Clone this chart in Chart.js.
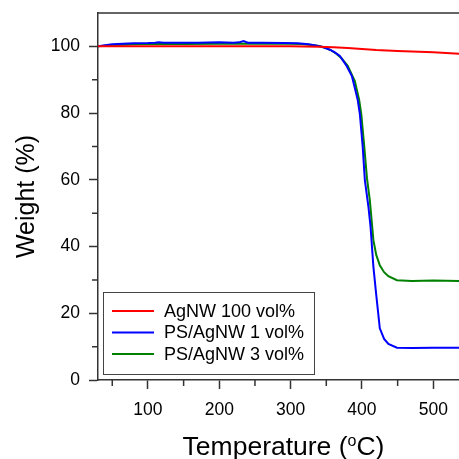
<!DOCTYPE html>
<html>
<head>
<meta charset="utf-8">
<script src="https://cdn.jsdelivr.net/npm/chart.js@4.4.1/dist/chart.umd.min.js"></script>
<style>
  html, body { margin: 0; padding: 0; background: #fff; }
  #wrap { width: 459px; height: 459px; }
</style>
</head>
<body>
<div id="wrap"><canvas id="tga" width="459" height="459"></canvas></div>
<script>
// TGA curves
const tempRed = [30, 100, 200, 300, 340, 360, 380, 400, 420, 450, 500, 536];
const weightRed = [100, 100, 100, 100, 99.9, 99.7, 99.5, 99.2, 98.9, 98.6, 98.2, 97.8];

const tempBlue = [30, 40, 50, 65, 80, 100, 110, 115, 122, 140, 170, 200, 220, 228, 234, 240, 260, 290, 310, 325,
    335, 345, 355, 362, 369, 378, 386, 390, 394, 397, 401, 404, 409, 412, 416, 420, 425, 431, 437, 449, 470, 500, 536];
const weightBlue = [100, 100.3, 100.6, 100.8, 100.9, 101.0, 101.1, 101.2, 101.1, 101.1, 101.1, 101.2, 101.1, 101.2, 101.6, 101.1, 101.1, 101.0, 100.9, 100.6,
    100.3, 99.8, 99.0, 98.2, 97.1, 94.3, 91.0, 87.5, 84.0, 79.8, 70.0, 60.0, 52.0, 46.0, 34.0, 25.5, 15.5, 12.3, 10.8, 9.7, 9.6, 9.7, 9.7];

const tempGreen = [30, 40, 50, 65, 80, 100, 150, 200, 250, 300, 315, 330, 340, 348, 356, 364, 371, 380, 390, 396,
    399, 403, 407, 411, 416, 420, 425, 431, 437, 449, 470, 500, 536];
const weightGreen = [100, 100.2, 100.4, 100.5, 100.6, 100.7, 100.7, 100.8, 100.8, 100.8, 100.7, 100.4, 100.1, 99.6, 98.9, 97.8, 96.5, 94.2, 89.6, 84.0,
    79.8, 70.5, 60.5, 53.9, 41.9, 37.5, 34.4, 32.3, 31.1, 29.9, 29.7, 29.8, 29.7];

const seriesLabels = ['AgNW 100 vol%', 'PS/AgNW 1 vol%', 'PS/AgNW 3 vol%'];
const seriesColors = ['#ff0000', '#0000ff', '#008000'];

const xMajorTicks = [100, 200, 300, 400, 500];
const xMinorTicks = [50, 150, 250, 350, 450];
const yMajorTicks = [0, 20, 40, 60, 80, 100];
const yMinorTicks = [10, 30, 50, 70, 90];

const FONT = "'Liberation Sans', Arial, sans-serif";
const AXIS_COLOR = '#333333';

function toPoints(xs, ys) {
    return xs.map((x, i) => ({ x, y: ys[i] }));
}

// minor ticks, top frame line, legend box and the x title (superscript o)
const extras = {
    id: 'extras',
    afterDraw(chart) {
        const { ctx, chartArea } = chart;
        const xs = chart.scales.x;
        const ys = chart.scales.y;
        ctx.save();
        ctx.strokeStyle = AXIS_COLOR;
        ctx.lineWidth = 1.5;
        ctx.beginPath();
        ctx.moveTo(chartArea.left, chartArea.top);
        ctx.lineTo(chartArea.right, chartArea.top);
        xMinorTicks.forEach(v => {
            const px = xs.getPixelForValue(v);
            ctx.moveTo(px, chartArea.bottom);
            ctx.lineTo(px, chartArea.bottom + 6);
        });
        yMinorTicks.forEach(v => {
            const py = ys.getPixelForValue(v);
            ctx.moveTo(chartArea.left - 6, py);
            ctx.lineTo(chartArea.left, py);
        });
        ctx.stroke();

        // legend
        ctx.lineWidth = 1;
        ctx.strokeStyle = '#444';
        ctx.strokeRect(103.5, 292.5, 211, 82);
        ctx.font = `18px ${FONT}`;
        ctx.textBaseline = 'middle';
        ctx.fillStyle = '#000';
        const rows = [311, 332.5, 354];
        chart.data.datasets.forEach((ds, i) => {
            ctx.strokeStyle = ds.borderColor;
            ctx.lineWidth = 2;
            ctx.beginPath();
            ctx.moveTo(112, rows[i]);
            ctx.lineTo(154, rows[i]);
            ctx.stroke();
            ctx.fillText(ds.label, 164, rows[i] + 1);
        });

        // x title
        const big = `26.5px ${FONT}`;
        const small = `16px ${FONT}`;
        const p1 = 'Temperature (', p2 = 'o', p3 = 'C)';
        ctx.font = big;
        const w1 = ctx.measureText(p1).width, w3 = ctx.measureText(p3).width;
        ctx.font = small;
        const w2 = ctx.measureText(p2).width;
        let x = 283.5 - (w1 + w2 + w3) / 2;
        const base = 455;
        ctx.textBaseline = 'alphabetic';
        ctx.font = big;
        ctx.fillText(p1, x, base);
        x += w1;
        ctx.font = small;
        ctx.fillText(p2, x, base - 9);
        x += w2;
        ctx.font = big;
        ctx.fillText(p3, x, base);
        ctx.restore();
    }
};

new Chart(document.getElementById('tga'), {
    type: 'line',
    data: {
        datasets: [
            { label: seriesLabels[0], data: toPoints(tempRed, weightRed), borderColor: seriesColors[0] },
            { label: seriesLabels[1], data: toPoints(tempBlue, weightBlue), borderColor: seriesColors[1] },
            { label: seriesLabels[2], data: toPoints(tempGreen, weightGreen), borderColor: seriesColors[2] }
        ]
    },
    options: {
        responsive: false,
        animation: false,
        layout: { padding: { top: 13, right: 0, left: 0, bottom: 0 } },
        elements: {
            line: { borderWidth: 2, tension: 0, fill: false },
            point: { radius: 0 }
        },
        plugins: { legend: { display: false }, tooltip: { enabled: false } },
        scales: {
            x: {
                type: 'linear',
                min: 30,
                max: 536,
                afterBuildTicks: s => { s.ticks = xMajorTicks.map(v => ({ value: v })); },
                afterFit: s => { s.height = 79; s.paddingLeft = 0; s.paddingRight = 0; },
                border: { display: true, color: AXIS_COLOR, width: 1.5 },
                grid: { drawOnChartArea: false, color: AXIS_COLOR, tickLength: 9, tickWidth: 1.5 },
                ticks: { color: '#000', font: { family: FONT, size: 17.5 }, padding: 11, maxRotation: 0 }
            },
            y: {
                type: 'linear',
                min: 0,
                max: 110,
                afterBuildTicks: s => { s.ticks = yMajorTicks.map(v => ({ value: v })); },
                afterFit: s => { s.width = 98; s.paddingTop = 0; s.paddingBottom = 0; },
                border: { display: true, color: AXIS_COLOR, width: 1.5 },
                grid: { drawOnChartArea: false, color: AXIS_COLOR, tickLength: 9, tickWidth: 1.5 },
                ticks: { color: '#000', font: { family: FONT, size: 17.5 }, padding: 9 },
                title: {
                    display: true,
                    text: 'Weight (%)',
                    color: '#000',
                    font: { family: FONT, size: 25 },
                    padding: { top: 12, bottom: 0 }
                }
            }
        }
    },
    plugins: [extras]
});
</script>
</body>
</html>
